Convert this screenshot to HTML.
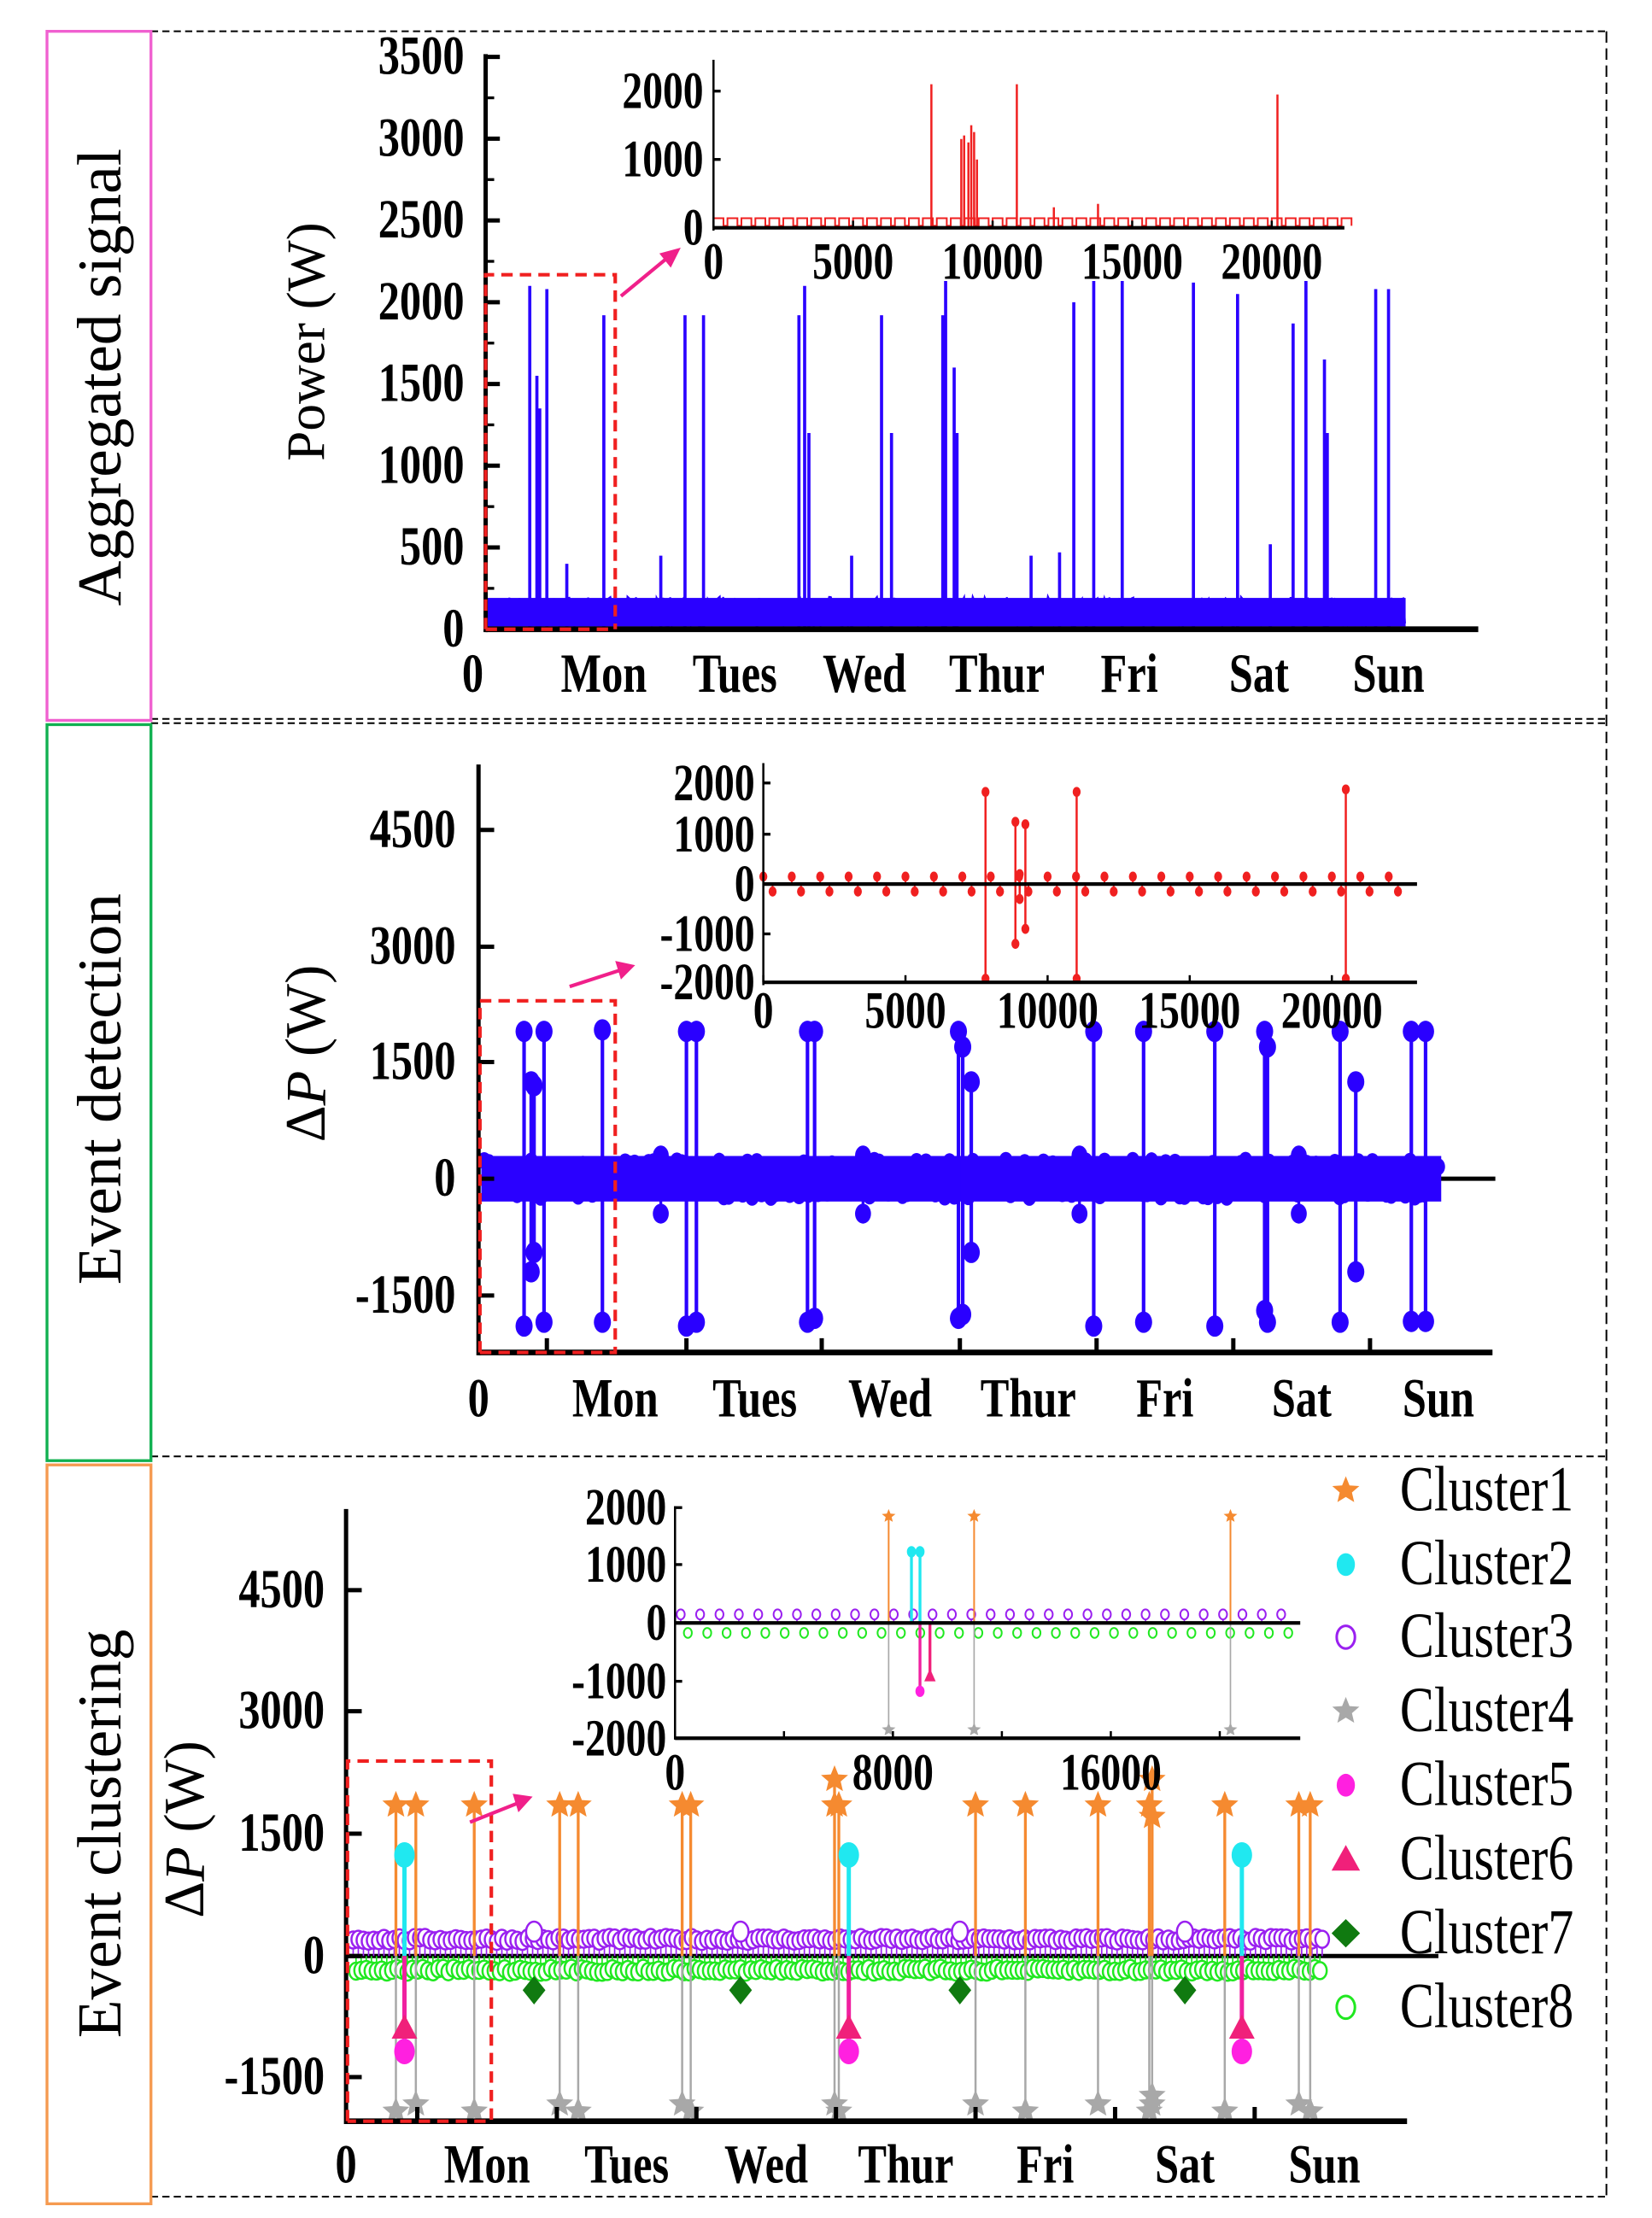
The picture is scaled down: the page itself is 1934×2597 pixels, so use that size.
<!DOCTYPE html>
<html><head><meta charset="utf-8"><style>
html,body{margin:0;padding:0;background:#fff;width:1934px;height:2597px;overflow:hidden}
svg{display:block}
text{font-family:"Liberation Serif",serif}
.t{font-weight:bold;font-size:36px}
.ti{font-weight:bold;font-size:34px}
</style></head><body>
<svg id="s" width="1934" height="2597" viewBox="0 0 1160 1558" preserveAspectRatio="none" xmlns="http://www.w3.org/2000/svg"></svg>
<script>
var S=[];function a(x){S.push(x)}
function L(x1,y1,x2,y2,c,w,d){a('<line x1="'+x1+'" y1="'+y1+'" x2="'+x2+'" y2="'+y2+'" stroke="'+c+'" stroke-width="'+w+'"'+(d?' stroke-dasharray="'+d+'"':'')+'/>')}
function T(x,y,s,cls,anc){a('<text transform="translate('+x+' '+y+') scale(0.84 1.08)" x="0" y="0" class="'+cls+'" text-anchor="'+(anc||'middle')+'">'+s+'</text>')}
function C(x,y,r,f,s,sw){a('<ellipse cx="'+x+'" cy="'+y+'" rx="'+(r*0.8)+'" ry="'+r+'" fill="'+f+'" stroke="'+(s||'none')+'" stroke-width="'+(sw||1)+'"/>')}
function star(x,y,r,c){var p=[];for(var i=0;i<10;i++){var ang=-Math.PI/2+i*Math.PI/5,rr=i%2?r*0.45:r;p.push((x+rr*Math.cos(ang)).toFixed(1)+','+(y+rr*Math.sin(ang)).toFixed(1))}a('<polygon points="'+p.join(' ')+'" fill="'+c+'"/>')}
// frames
L(106,22,1128,22,'#000',1.2,'5,3');L(1128,22,1128,1543,'#000',1.2,'8,4');
L(106,505,1128,505,'#000',1.2,'5,3');L(106,508,1128,508,'#000',1.2,'5,3');
L(106,1023,1128,1023,'#000',1.2,'5,3');L(106,1543,1128,1543,'#000',1.2,'5,3');
a('<rect x="33" y="22" width="73" height="484" fill="none" stroke="#f060d0" stroke-width="2"/>');
a('<rect x="33" y="509" width="73" height="517" fill="none" stroke="#10b050" stroke-width="2"/>');
a('<rect x="33" y="1029" width="73" height="519" fill="none" stroke="#f59a50" stroke-width="2"/>');
a('<text x="70" y="265" font-size="44" text-anchor="middle" dominant-baseline="central" transform="rotate(-90 70 265)">Aggregated signal</text>');
a('<text x="70" y="765" font-size="44" text-anchor="middle" dominant-baseline="central" transform="rotate(-90 70 765)">Event detection</text>');
a('<text x="70" y="1288" font-size="44" text-anchor="middle" dominant-baseline="central" transform="rotate(-90 70 1288)">Event clustering</text>');
// ===== Panel 1
var rnd=(function(){var s=7;return function(){s=(s*16807)%2147483647;return s/2147483647}})();
var y0=442,k=402/3500;
var pts='';for(var x=341;x<=987;x+=1.2){var v=rnd()<0.5?(20+rnd()*30):(120+rnd()*80);pts+=x.toFixed(1)+','+(y0-v*k).toFixed(1)+' '}
a('<polyline points="'+pts+'" fill="none" stroke="#2a00ff" stroke-width="1.3"/>');
a('<rect x="341" y="420" width="646" height="20" fill="#2a00ff"/>');
var sp=[[372,2100],[377,1550],[379,1350],[384,2080],[398,400],[424,1920],[464,450],[481,1920],[494,1920],[561,1920],[565,2100],[568,1200],[598,450],[619,1920],[626,1200],[662,1920],[664,2130],[670,1600],[672,1200],[724,450],[744,470],[754,2000],[768,2130],[788,2130],[838,2120],[869,2050],[892,520],[908,1870],[917,2130],[930,1650],[932,1200],[966,2080],[975,2080]];
sp.forEach(function(s){L(s[0],y0,s[0],y0-s[1]*k,'#2a00ff',2.2)});
L(341,38,341,444,'#000',3);L(341,442,1038,442,'#000',4);
for(var i=0;i<=7;i++){var yy=y0-i*500*k;L(341,yy,351,yy,'#000',3);if(i<7)L(341,yy-250*k,347,yy-250*k,'#000',2);T(326,yy+12,i*500,'t','end')}
[['0',332],['Mon',424],['Tues',516],['Wed',607],['Thur',700],['Fri',793],['Sat',884],['Sun',975]].forEach(function(d){T(d[1],486,d[0],'t')});
a('<text x="215" y="240" font-size="38" text-anchor="middle" dominant-baseline="central" transform="rotate(-90 215 240)">Power (W)</text>');
a('<polyline points="341,442 341,193 432,193 432,442" fill="none" stroke="#f02020" stroke-width="2.5" stroke-dasharray="8,5"/>');
L(341,442,432,442,'#f02020',2.5,'8,5');
L(436,208,470,180,'#f0208a',2.5);a('<polygon points="478,174 463,178 471,188" fill="#f0208a"/>');
// inset1
var ix0=501,iy0=160,ik=96/2000,ixk=98/5000;
var p1='';for(var t=0;t<22600;t+=500){var x=ix0+t*ixk;p1+=x.toFixed(1)+','+(iy0-30*ik).toFixed(1)+' '+x.toFixed(1)+','+(iy0-140*ik).toFixed(1)+' '+(x+7).toFixed(1)+','+(iy0-140*ik).toFixed(1)+' '+(x+7).toFixed(1)+','+(iy0-30*ik).toFixed(1)+' '}
a('<polyline points="'+p1+'" fill="none" stroke="#f02020" stroke-width="1.2"/>');
[[654,2100],[675,1300],[677,1350],[680,1250],[682,1500],[684,1400],[686,1000],[714,2100],[897,1950],[771,350],[740,300]].forEach(function(s){L(s[0],iy0,s[0],iy0-s[1]*ik,'#f02020',1.5)});
L(501,42,501,162,'#000',1.5);L(501,160,944,160,'#000',2.5);
for(var i=0;i<=2;i++){var yy=iy0-i*1000*ik;L(501,yy,506,yy,'#000',2);T(494,yy+12,i*1000,'ti','end')}
for(var i=0;i<=4;i++){var xx=ix0+i*5000*ixk;L(xx,160,xx,155,'#000',1.5);T(xx,196,i*5000,'ti')}
// ===== Panel 2
var z2=828,k2=81.7/1500;
L(336,z2,1050,z2,'#000',3);
for(var x=340;x<=1010;x+=3.3){var up=rnd()<0.5;var v=(120+rnd()*120)*(up?1:-1);L(x,z2,x,z2-v*k2,'#2a00ff',1.2);C(x,z2-v*k2,6,'#2a00ff')}
a('<rect x="338" y="812" width="674" height="32" fill="#2a00ff"/>');
[464,606,758,912].forEach(function(x){C(x,z2-300*k2,7,'#2a00ff');C(x,z2+450*k2,7,'#2a00ff');L(x,z2-300*k2,x,z2+450*k2,'#2a00ff',2)});
[[368,1900,-1900],[373,1250,-1200],[375,1200,-950],[382,1900,-1850],[423,1920,-1850],[482,1900,-1900],[489,1900,-1850],[567,1900,-1850],[572,1900,-1800],[673,1900,-1800],[676,1700,-1750],[682,1250,-950],[768,1900,-1900],[803,1900,-1850],[853,1900,-1900],[888,1900,-1700],[890,1700,-1850],[941,1900,-1850],[952,1250,-1200],[991,1900,-1840],[1001,1900,-1840]].forEach(function(s){L(s[0],z2-s[1]*k2,s[0],z2-s[2]*k2,'#2a00ff',2.5);C(s[0],z2-s[1]*k2,7.5,'#2a00ff');C(s[0],z2-s[2]*k2,7.5,'#2a00ff')});
L(336,537,336,952,'#000',3);L(336,950,1048,950,'#000',4);
[[4500,583],[3000,665],[1500,746],[0,828],[-1500,910]].forEach(function(d){L(336,d[1],347,d[1],'#000',3);T(320,d[1]+12,d[0],'t','end')});
[['0',336],['Mon',432],['Tues',530],['Wed',625],['Thur',722],['Fri',818],['Sat',914],['Sun',1010]].forEach(function(d){T(d[1],995,d[0],'t');if(d[0]!='0')L(d[1]-48,950,d[1]-48,940,'#000',3)});
a('<text x="215" y="740" font-size="40" text-anchor="middle" dominant-baseline="central" transform="rotate(-90 215 740)">Δ<tspan font-style="italic">P</tspan> (W)</text>');
a('<polyline points="337,950 337,703 432,703 432,950 337,950" fill="none" stroke="#f02020" stroke-width="2.5" stroke-dasharray="8,5"/>');
L(400,693,437,681,'#f0208a',2.5);a('<polygon points="446,678 432,675 436,688" fill="#f0208a"/>');
// inset2
var z3=621,k3=35/1000,ix2=536,ixk2=99.8/5000;
for(var t=0;t<23000;t+=1000){var x=ix2+t*ixk2;L(x,z3,x,z3-150*k3,'#f02020',1.2);C(x,z3-150*k3,3.5,'#f02020');var x2=x+6.5;L(x2,z3,x2,z3+150*k3,'#f02020',1.2);C(x2,z3+150*k3,3.5,'#f02020')}
[[692,1850,-1900],[713,1250,-1200],[716,200,-300],[720,1200,-900],[756,1850,-1900],[945,1900,-1900]].forEach(function(s){L(s[0],z3-s[1]*k3,s[0],z3-s[2]*k3,'#f02020',1.5);C(s[0],z3-s[1]*k3,3.5,'#f02020');C(s[0],z3-s[2]*k3,3.5,'#f02020')});
L(536,536,536,692,'#000',1.5);L(536,z3,995,z3,'#000',2.5);L(536,690,995,690,'#000',2.5);
[[2000,550],[1000,586],[0,621],[-1000,656],[-2000,690]].forEach(function(d){L(536,d[1],541,d[1],'#000',2);T(530,d[1]+12,d[0],'ti','end')});
for(var i=0;i<=4;i++){var xx=ix2+i*5000*ixk2;L(xx,690,xx,685,'#000',1.5);T(xx,722,i*5000,'ti')}
// ===== Panel 3
var z4=1374,k4=85.7/1500;
L(243,z4,1010,z4,'#000',3);
for(var x=248;x<=930;x+=3.6){var v=180+rnd()*50;L(x,z4,x,z4-v*k4,'#9a20f0',1);C(x,z4-v*k4,6,'#fff','#9a20f0',1.5)}
for(var x=250;x<=930;x+=3.6){var v=150+rnd()*50;L(x,z4,x,z4+v*k4,'#20e820',1);C(x,z4+v*k4,6,'#fff','#20e820',1.5)}
[375,520,674,832].forEach(function(x){C(x,z4-300*k4,7,'#fff','#9a20f0',1.5)});
var orn=[278,292,333,393,406,479,485,586,589,685,720,771,807,809,860,912,920];
orn.forEach(function(x,i){var top=(x==586||x==809)?1250:1268;L(x,z4,x,top,'#f58a30',2);star(x,top,10,'#f58a30');var bt=(i%2)?1478:1483;L(x,z4,x,bt,'#a8a8a8',1.5);star(x,bt,10,'#a8a8a8')});
star(586,1268,10,'#f58a30');star(809,1276,10,'#f58a30');star(809,1472,10,'#a8a8a8');
[284,596,872].forEach(function(x){L(x,z4,x,1303,'#20e8f0',3);C(x,1303,9,'#20e8f0');L(x,z4,x,1441,'#f020a0',3);C(x,1441,9,'#ff20e0');a('<polygon points="'+x+',1415 '+(x-9)+',1432 '+(x+9)+',1432" fill="#f0207a"/>')});
[375,520,674,832].forEach(function(x){a('<polygon points="'+x+',1388 '+(x+8)+',1398 '+x+',1408 '+(x-8)+',1398" fill="#107a10"/>')});
L(243,1060,243,1492,'#000',3);L(243,1490,988,1490,'#000',4);
[[4500,1117],[3000,1202],[1500,1288],[0,1374],[-1500,1459]].forEach(function(d){L(243,d[1],254,d[1],'#000',3);T(228,d[1]+12,d[0],'t','end')});
[['0',243],['Mon',342],['Tues',440],['Wed',538],['Thur',636],['Fri',734],['Sat',832],['Sun',930]].forEach(function(d){T(d[1],1533,d[0],'t');if(d[0]!='0')L(d[1]-49,1490,d[1]-49,1480,'#000',3)});
a('<text x="130" y="1285" font-size="40" text-anchor="middle" dominant-baseline="central" transform="rotate(-90 130 1285)">Δ<tspan font-style="italic">P</tspan> (W)</text>');
a('<polyline points="244,1490 244,1237 345,1237 345,1490 244,1490" fill="none" stroke="#f02020" stroke-width="2.5" stroke-dasharray="8,5"/>');
L(330,1280,365,1266,'#f0208a',2.5);a('<polygon points="374,1262 360,1260 364,1273" fill="#f0208a"/>');
// inset3
var z5=1140,k5=40.5/1000,ix3=474,ixk3=153/8000;
for(var x=478;x<=905;x+=13.6){L(x,z5,x,1134,'#9a20f0',1);C(x,1134,3.5,'#fff','#9a20f0',1.2)}
for(var x=483;x<=912;x+=13.6){C(x,1147,3.5,'#fff','#20e820',1.2)}
[624,684,864].forEach(function(x){L(x,z5,x,1065,'#f58a30',1.2);star(x,1065,5,'#f58a30');L(x,z5,x,1215,'#a8a8a8',1);star(x,1215,5,'#a8a8a8')});
L(640,z5,640,1090,'#20e8f0',2);C(640,1090,4,'#20e8f0');L(646,z5,646,1090,'#20e8f0',2);C(646,1090,4,'#20e8f0');
L(646,z5,646,1188,'#f020a0',2);C(646,1188,4,'#ff20e0');L(653,z5,653,1176,'#f0207a',2);a('<polygon points="653,1172 649,1181 657,1181" fill="#f0207a"/>');
L(474,1058,474,1222,'#000',1.5);L(474,z5,913,z5,'#000',2.5);L(474,1221,913,1221,'#000',2.5);
[[2000,1059],[1000,1099],[0,1140],[-1000,1181],[-2000,1221]].forEach(function(d){L(474,d[1],479,d[1],'#000',2);T(468,d[1]+12,d[0],'ti','end')});
for(var i=0;i<=5;i++){var xx=ix3+i*4000*ixk3;L(xx,1221,xx,1216,'#000',1.5)}
[['0',474],['8000',627],['16000',780]].forEach(function(d){T(d[1],1257,d[0],'ti')});
// legend
var ly=[1047,1099,1150,1202,1254,1306,1358,1410];
star(945,ly[0],10,'#f58a30');C(945,ly[1],8,'#20e8f0');C(945,ly[2],8,'#fff','#9a20f0',1.8);star(945,ly[3],10,'#a8a8a8');C(945,ly[4],8,'#ff20e0');
a('<polygon points="945,1296 935,1314 955,1314" fill="#f0207a"/>');a('<polygon points="945,1348 955,1358 945,1368 935,1358" fill="#107a10"/>');C(945,ly[7],8,'#fff','#20e820',1.8);
ly.forEach(function(y,i){a('<text transform="translate(983 '+(y+14)+') scale(0.9 1.12)" font-size="40">Cluster'+(i+1)+'</text>')});
document.getElementById('s').innerHTML=S.join('');
</script>
</body></html>
